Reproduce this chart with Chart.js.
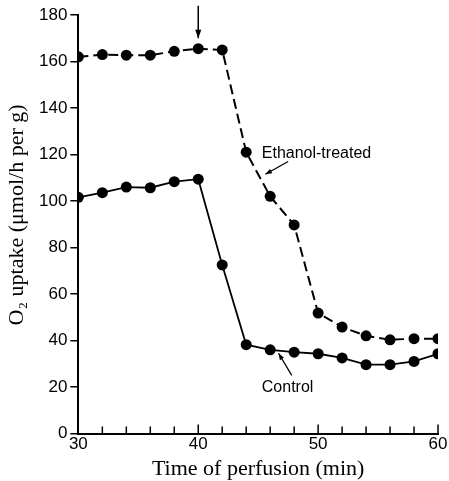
<!DOCTYPE html>
<html><head><meta charset="utf-8">
<script src="https://cdn.jsdelivr.net/npm/chart.js@4"></script>
<style>html,body{margin:0;padding:0;background:#fff}#wrap{width:449px;height:481px}</style>
</head><body><div id="wrap"><canvas id="c" width="449" height="481"></canvas></div>
<script>
const times = [30,32,34,36,38,40,42,44,46,48,50,52,54,56,58,60];
const ethanol = [162,163,162.7,162.7,164.4,165.5,165,121,102,89.7,51.8,45.8,42,40.3,40.8,40.8];
const control = [101.6,103.6,106,105.7,108.3,109.4,72.5,38.2,36,35,34.3,32.5,29.6,29.6,31,34.3];
const xTickLabels = [30,40,50,60];
const yTickLabels = [0,20,40,60,80,100,120,140,160,180];
const seriesNames = ['Ethanol-treated','Control'];
const yTitle = 'O₂ uptake (μmol/h per g)';
const xTitle = 'Time of perfusion (min)';

const ann = {
  arrow: {x:40, y1:184, y2:170},
  ethText: {x:45.3, y:120.6},
  ethArrow: {x1:47.5, y1:117, x2:45.6, y2:111.5},
  ctlText: {x:45.3, y:19.7},
  ctlArrow: {x1:47.8, y1:25, x2:46.7, y2:34.5},
  yTitle: {px:17, y:94}
};

function pts(v){return times.map((t,i)=>({x:t,y:v[i]}));}

const annPlugin = {
  id:'ann',
  afterDraw(chart){
    const ctx=chart.ctx, xs=chart.scales.x, ys=chart.scales.y;
    const X=v=>xs.getPixelForValue(v), Y=v=>ys.getPixelForValue(v);
    ctx.save();
    ctx.strokeStyle='#000'; ctx.fillStyle='#000';
    ctx.lineWidth=1.5;
    for(let t=32;t<=60;t+=2){
      const len = (t%10===0)?9:7;
      ctx.beginPath(); ctx.moveTo(X(t),ys.bottom); ctx.lineTo(X(t),ys.bottom-len); ctx.stroke();
    }
    function arrow(x1,y1,x2,y2,head){
      ctx.beginPath(); ctx.moveTo(x1,y1); ctx.lineTo(x2,y2); ctx.stroke();
      const a=Math.atan2(y2-y1,x2-x1);
      ctx.beginPath(); ctx.moveTo(x2,y2);
      ctx.lineTo(x2-head*Math.cos(a-0.35),y2-head*Math.sin(a-0.35));
      ctx.lineTo(x2-head*Math.cos(a+0.35),y2-head*Math.sin(a+0.35));
      ctx.closePath(); ctx.fill();
    }
    ctx.lineWidth=1.5;
    arrow(X(ann.arrow.x),Y(ann.arrow.y1),X(ann.arrow.x),Y(ann.arrow.y2),9);
    ctx.lineWidth=1.3;
    arrow(X(ann.ethArrow.x1),Y(ann.ethArrow.y1),X(ann.ethArrow.x2),Y(ann.ethArrow.y2),7);
    arrow(X(ann.ctlArrow.x1),Y(ann.ctlArrow.y1),X(ann.ctlArrow.x2),Y(ann.ctlArrow.y2),7);
    ctx.font='16px "Liberation Sans", Arial, sans-serif';
    ctx.textBaseline='middle'; ctx.textAlign='left';
    ctx.fillText(seriesNames[0],X(ann.ethText.x),Y(ann.ethText.y));
    ctx.fillText(seriesNames[1],X(ann.ctlText.x),Y(ann.ctlText.y));
    ctx.translate(ann.yTitle.px, Y(ann.yTitle.y));
    ctx.rotate(-Math.PI/2);
    ctx.font='22px "Liberation Serif", "Times New Roman", serif';
    ctx.textAlign='center';
    ctx.fillText(yTitle,0,0);
    ctx.restore();
  }
};

new Chart(document.getElementById('c'),{
  type:'scatter',
  data:{datasets:[
    {label:seriesNames[0],data:pts(ethanol),showLine:true,borderColor:'#000',backgroundColor:'#000',borderWidth:2,borderDash:[10,5],pointRadius:5.5,pointBorderWidth:0},
    {label:seriesNames[1],data:pts(control),showLine:true,borderColor:'#000',backgroundColor:'#000',borderWidth:1.8,pointRadius:5.5,pointBorderWidth:0}
  ]},
  options:{
    responsive:false, animation:false,
    layout:{padding:{top:15,right:11,bottom:0,left:36}},
    plugins:{legend:{display:false},tooltip:{enabled:false}},
    scales:{
      x:{type:'linear',min:30,max:60,
        afterBuildTicks:s=>{s.ticks=xTickLabels.map(v=>({value:v}));},
        ticks:{color:'#000',font:{family:'"Liberation Sans", Arial, sans-serif',size:17},padding:1,maxRotation:0},
        grid:{display:true,drawOnChartArea:false,drawTicks:false},
        border:{display:true,color:'#000',width:2},
        title:{display:true,text:xTitle,color:'#000',font:{family:'"Liberation Serif", "Times New Roman", serif',size:22,lineHeight:1.05},padding:{top:2,bottom:0}}
      },
      y:{type:'linear',min:0,max:180,
        afterBuildTicks:s=>{s.ticks=yTickLabels.map(v=>({value:v}));},
        ticks:{color:'#000',font:{family:'"Liberation Sans", Arial, sans-serif',size:17},padding:3},
        grid:{display:true,drawOnChartArea:false,drawTicks:true,tickLength:8,color:'#000',lineWidth:1.5},
        border:{display:true,color:'#000',width:2},
        title:{display:false}
      }
    }
  },
  plugins:[annPlugin]
});
</script></body></html>
